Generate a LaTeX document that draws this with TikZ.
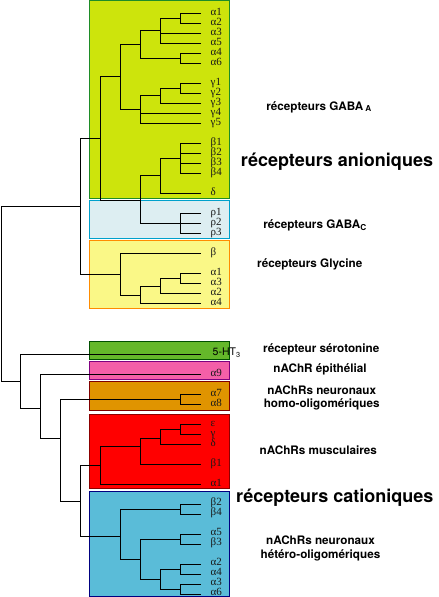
\documentclass[tikz,border=0pt]{standalone}
\usepackage{fontspec}
\setmainfont{Liberation Serif}
\newfontfamily\labelfont{TeX Gyre Heros}

\definecolor{gabaAfill}{RGB}{205,228,12}
\definecolor{gabaAedge}{RGB}{30,140,40}
\definecolor{gabaCfill}{RGB}{221,238,242}
\definecolor{gabaCedge}{RGB}{0,160,204}
\definecolor{glyfill}{RGB}{250,248,135}
\definecolor{glyedge}{RGB}{255,140,0}
\definecolor{htfill}{RGB}{100,184,42}
\definecolor{htedge}{RGB}{0,80,0}
\definecolor{epifill}{RGB}{244,95,168}
\definecolor{epiedge}{RGB}{128,0,128}
\definecolor{homofill}{RGB}{224,148,0}
\definecolor{homoedge}{RGB}{128,0,0}
\definecolor{muscfill}{RGB}{255,0,0}
\definecolor{muscedge}{RGB}{140,0,0}
\definecolor{hetfill}{RGB}{90,188,216}
\definecolor{hetedge}{RGB}{0,0,128}

\begin{document}
\begin{tikzpicture}[x=1pt,y=-1pt,
    tree/.style={line width=.9pt},
    box/.style={line width=1pt},
    leaf/.style={anchor=base west,xshift=10pt,yshift=-2.6pt,inner sep=0pt,
      font=\fontsize{11}{11}\selectfont,text=black!90},
    group/.style={anchor=base,inner sep=0pt,align=center,
      font=\labelfont\bfseries\fontsize{11.7}{13.5}\selectfont},
    family/.style={anchor=base,inner sep=0pt,
      font=\labelfont\bfseries\fontsize{18}{20}\selectfont}]
    \useasboundingbox (0,0) rectangle (439,597);
    \foreach \e/\f/\t/\b in {gabaAedge/gabaAfill/0.8/198.3,
      gabaCedge/gabaCfill/200.5/238.5, glyedge/glyfill/240.3/308.3,
      htedge/htfill/341.3/359.3, epiedge/epifill/361.3/379.3,
      homoedge/homofill/381.3/410.3, muscedge/muscfill/414.3/488.3,
      hetedge/hetfill/491.7/596.3} {
      \draw[box,draw=\e,fill=\f] (89.5,\t) rectangle (229.5,\b);
    }
    \foreach \n/\y/\t in {aA1/13/α1, aA2/23/α2, aA3/33/α3, aA5/43/α5,
      aA4/53/α4, aA6/63/α6, gA1/83/γ1, gA2/93/γ2, gA3/103/γ3, gA4/113/γ4,
      gA5/123/γ5, bA1/143/β1, bA2/153/β2, bA3/163/β3, bA4/173/β4,
      dA/193/δ, rC1/213.3/ρ1, rC2/223.3/ρ2, rC3/233.3/ρ3,
      bG/253.3/β, aG1/273.3/α1, aG3/283.3/α3, aG2/293.3/α2, aG4/303.3/α4,
      a9/374.3/α9, a7/394.3/α7, a8/404.3/α8,
      eM/424.3/ε, gM/434.3/γ, dM/444.3/δ, bM1/464.3/β1, aM1/484.3/α1} {
      \coordinate (\n) at (200.5,\y);
      \node[leaf] (\n-t) at (\n) {\t};
    }
    \foreach \n/\y/\t in {bH2/504.3/β2, bH4/514.3/β4, aH5/534.3/α5,
      bH3/544.3/β3, aH2/564.3/α2, aH4/574.3/α4, aH3/584.3/α3,
      aH6/594.3/α6} {
      \coordinate (\n) at (200.5,\y);
      \node[leaf,yshift=1.8pt] (\n-t) at (\n) {\t};
    }
    \coordinate (ht3) at (200.5,354.3);
    \node[leaf,xshift=2pt,yshift=1pt,text=black,
      font=\labelfont\fontsize{10.5}{10.5}\selectfont]
      (ht3-t) at (ht3) {5-HT\textsubscript{3}};
    \foreach \n/\x/\y in {n1/180.5/18, n2/160.5/30.5, n3/180.5/58,
      n4/140.5/44.3, n5/180.5/88, n6/160.5/95.5, n7/140.5/109,
      n8/120.5/76.5, n9/180.5/158, n10/160.5/175.5, n11/180.5/223.3,
      n12/140.5/200.3, n13/100.5/138, n14/180.5/278.3, n15/160.5/286,
      n16/140.5/295, n17/120.5/274.5, n18/80.5/206.5,
      c1/180.5/399.3, m1/180.5/429.3, m2/160.5/438.3, m3/140.5/446.3,
      m4/100.5/465.3, h1/180.5/509.3, h2/180.5/539.3, h3/180.5/569.3,
      h4/180.5/589.3, h5/160.5/579.3, h6/140.5/559.5, h7/120.5/536.7,
      c2/80.5/501.3, c3/60.5/438.3, c4/40.5/408.3, c5/20.5/381.5,
      root/1/294} {
      \coordinate (\n) at (\x,\y);
    }
    \foreach \p/\c in {n1/aA1, n1/aA2, n2/n1, n2/aA3, n2/aA5, n3/aA4, n3/aA6,
      n4/n2, n4/n3, n5/gA1, n5/gA2, n6/n5, n6/gA3, n7/n6, n7/gA4, n7/gA5,
      n8/n4, n8/n7, n9/bA1, n9/bA2, n9/bA3, n9/bA4, n10/n9, n10/dA,
      n11/rC1, n11/rC2, n11/rC3, n12/n10, n12/n11, n13/n8, n13/n12,
      n14/aG1, n14/aG3, n15/n14, n15/aG2, n16/n15, n16/aG4, n17/bG, n17/n16,
      n18/n13, n18/n17, c1/a7, c1/a8, m1/eM, m1/gM, m2/m1, m2/dM,
      m3/m2, m3/bM1, m4/m3, m4/aM1, h1/bH2, h1/bH4, h2/aH5, h2/bH3,
      h3/aH2, h3/aH4, h4/aH3, h4/aH6, h5/h3, h5/h4, h6/h2, h6/h5,
      h7/h1, h7/h6, c2/m4, c2/h7, c3/c1, c3/c2, c4/a9, c4/c3,
      c5/ht3, c5/c4, root/n18, root/c5} {
      \draw[tree] (\p) |- (\c);
    }
    \node[group] (gabaA-t) at (319,110) {récepteurs GABA\,\textsubscript{A}};
    \node[family] (anion-t) at (337,166.5) {récepteurs anioniques};
    \node[group] (gabaC-t) at (315,228.5) {récepteurs GABA\textsubscript{C}};
    \node[group] (gly-t) at (309.7,267.5) {récepteurs Glycine};
    \node[group] (ht-t) at (321.2,352.5) {récepteur sérotonine};
    \node[group] (epi-t) at (320,372) {nAChR épithélial};
    \node[group,anchor=center] (homo-t) at (321.7,397.8)
      {nAChRs neuronaux\\homo-oligomériques};
    \node[group] (musc-t) at (318.3,454) {nAChRs musculaires};
    \node[family] (cation-t) at (334.8,502.7) {récepteurs cationiques};
    \node[group,anchor=center] (het-t) at (320.5,548.3)
      {nAChRs neuronaux\\hétéro-oligomériques};
\end{tikzpicture}
\end{document}
